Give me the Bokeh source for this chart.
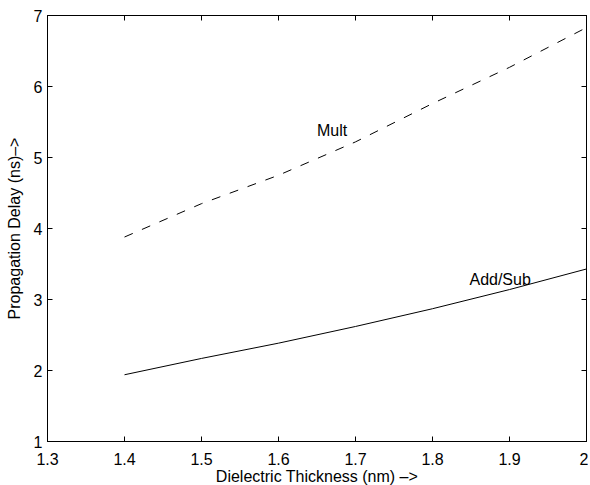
from bokeh.plotting import figure
from bokeh.models import FixedTicker, LinearAxis, Range1d, Label, CustomLabelingPolicy
from bokeh.embed import file_html
from bokeh.resources import INLINE

# data
thickness = [1.4, 1.5, 1.6, 1.7, 1.8, 1.9, 2.0]
mult_delay = [3.88, 4.35, 4.75, 5.22, 5.76, 6.27, 6.83]
addsub_delay = [1.94, 2.17, 2.385, 2.62, 2.87, 3.14, 3.43]
x_ticks = [1.3, 1.4, 1.5, 1.6, 1.7, 1.8, 1.9, 2.0]
x_tick_labels = ["1.3", "1.4", "1.5", "1.6", "1.7", "1.8", "1.9", "2"]
y_ticks = [1, 2, 3, 4, 5, 6, 7]
y_tick_labels = ["1", "2", "3", "4", "5", "6", "7"]

FONT = "Liberation Sans"

p = figure(width=588, height=487, output_backend="svg", toolbar_location=None,
           x_range=Range1d(1.3, 2.0), y_range=Range1d(1, 7),
           min_border_left=47, min_border_right=2, min_border_top=15, min_border_bottom=46)
p.grid.visible = False
p.outline_line_color = "black"
p.outline_line_width = 1
p.background_fill_color = "white"
p.border_fill_color = "white"

p.line(thickness, mult_delay, line_color="black", line_width=1, line_dash="9 10")
p.line(thickness, addsub_delay, line_color="black", line_width=1)

def style(ax, ticks, labels, size="16px"):
    ax.ticker = FixedTicker(ticks=ticks)
    ax.major_label_overrides = {t: l for t, l in zip(ticks, labels)}
    ax.major_tick_in = 5
    ax.major_tick_out = 0
    ax.minor_tick_line_color = None
    ax.major_tick_line_color = "black"
    ax.axis_line_color = "black"
    ax.major_label_text_font = FONT
    ax.major_label_text_font_size = size
    ax.major_label_text_color = "black"
    ax.axis_label_text_font = FONT
    ax.axis_label_text_font_size = "16px"
    ax.axis_label_text_font_style = "normal"
    ax.axis_label_text_color = "black"

xa = p.xaxis[0]
style(xa, x_ticks, x_tick_labels)
xa.major_label_standoff = 11
xa.axis_label = "Dielectric Thickness (nm) \u2013>"
xa.axis_label_standoff = 0

ya = p.yaxis[0]
style(ya, y_ticks, y_tick_labels)
ya.major_label_standoff = 5
ya.axis_label = "Propagation Delay (ns)\u2013>"
ya.axis_label_standoff = 8

no_labels = "return new indices.constructor(indices.size, 0)"
top = LinearAxis()
style(top, x_ticks, x_tick_labels, size="0px")
top.major_label_standoff = 0
top.major_label_policy = CustomLabelingPolicy(code=no_labels)
p.add_layout(top, "above")
right = LinearAxis()
style(right, y_ticks, y_tick_labels, size="0px")
right.major_label_standoff = 0
right.major_label_policy = CustomLabelingPolicy(code=no_labels)
p.add_layout(right, "right")

p.add_layout(Label(x=1.65, y=5.38, text="Mult", text_font=FONT, text_font_size="16px",
                   text_color="black", text_baseline="alphabetic"))
p.add_layout(Label(x=1.848, y=3.28, text="Add/Sub", text_font=FONT, text_font_size="16px",
                   text_color="black", text_baseline="alphabetic"))

open("out.html", "w").write(file_html(p, INLINE))
